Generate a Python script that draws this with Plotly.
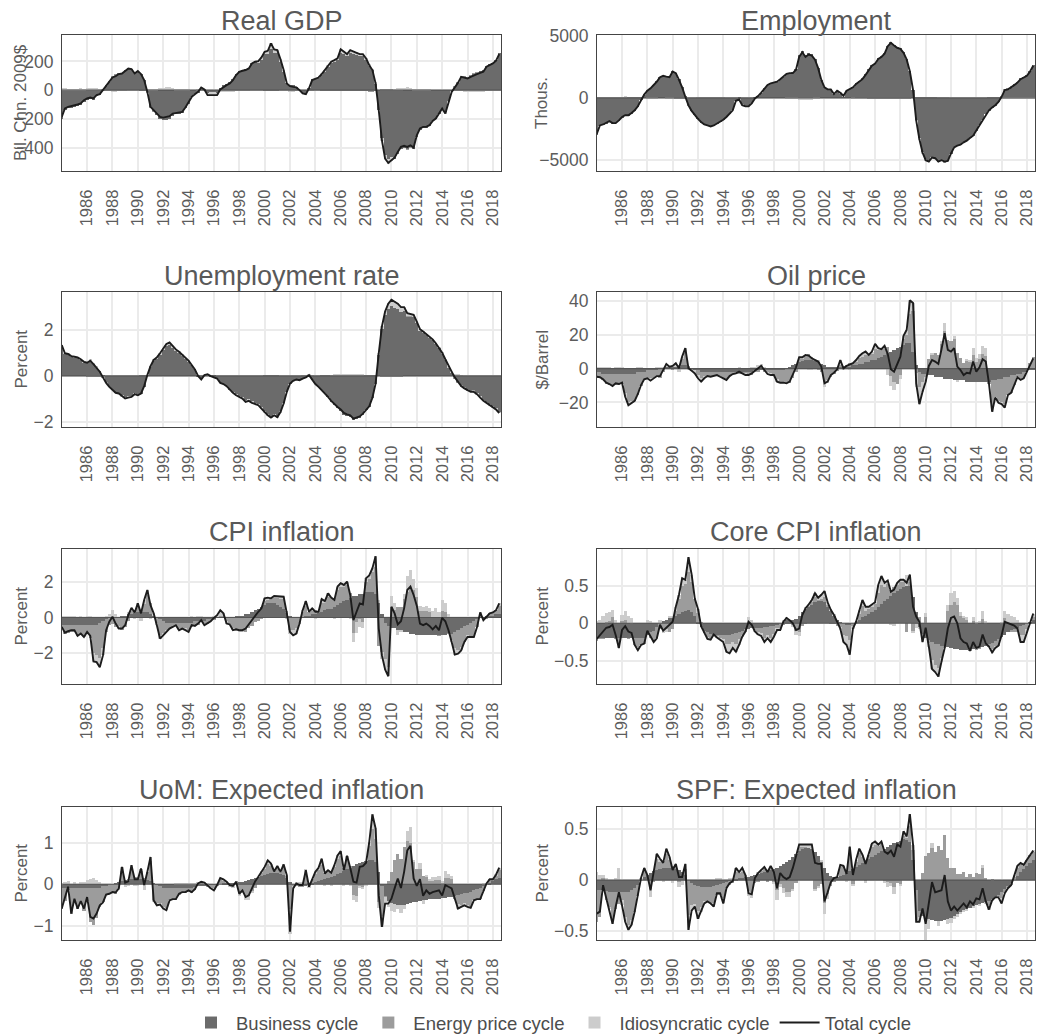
import plotly.graph_objects as go

# Quarterly decomposition, 1984Q1 - 2018Q3
START_YEAR = 1984
N_QUARTERS = 139
quarters = [START_YEAR + 0.25 * i for i in range(N_QUARTERS)]
year_ticks = list(range(1986, 2019, 2))

# ---------------- Real GDP (Bil. Chn. 2009$) ----------------
gdp_total = [
    -186, -128, -116, -112,   # 1984
    -105, -100, -93, -70,     # 1985
    -58, -51, -58, -35,       # 1986
    -28, 0, 28, 58,           # 1987
    88, 98, 112, 116,         # 1988
    135, 151, 147, 116,       # 1989
    133, 112, 70, -12,        # 1990
    -116, -140, -163, -186,   # 1991
    -191, -186, -181, -163,   # 1992
    -158, -158, -151, -121,   # 1993
    -88, -47, -28, -12,       # 1994
    19, 5, -35, -35,          # 1995
    -35, -35, 5, 23,          # 1996
    35, 47, 70, 105,          # 1997
    128, 135, 140, 151,       # 1998
    186, 198, 202, 228,       # 1999
    267, 274, 326, 284,       # 2000
    279, 214, 140, 47,        # 2001
    28, 23, 19, 0,            # 2002
    -23, -28, 12, 70,         # 2003
    77, 88, 112, 140,         # 2004
    174, 198, 209, 221,       # 2005
    284, 267, 251, 279,       # 2006
    267, 260, 251, 251,       # 2007
    221, 174, 140, 47,        # 2008
    -140, -349, -477, -507,   # 2009
    -488, -470, -430, -395,   # 2010
    -388, -395, -384, -400,   # 2011
    -314, -267, -256, -256,   # 2012
    -244, -214, -198, -163,   # 2013
    -128, -163, -81, -12,     # 2014
    19, 51, 93, 88,           # 2015
    81, 93, 105, 112,         # 2016
    121, 128, 163, 174,       # 2017
    186, 205, 251,            # 2018
]
gdp_energy = [
    0, 0, 0, 0,  0, 0, 0, 0,  2, 4, 4, 4,  3, 3, 2, 2,  1, 1, 0, 0,
    0, 0, 0, 0,  0, -2, -4, -4,  -2, -1, 0, 0,  0, 0, 0, 0,  0, 0, 0, 0,
    0, 0, 0, 0,  0, 0, 0, 0,  0, 0, 0, 0,  0, 0, 0, 0,  0, 0, 0, 0,
    0, 0, 0, 0,  -2, -2, -2, -2,  -2, 0, 0, 0,  0, 0, 0, 0,  0, 0, 0, 0,
    0, 0, -2, -2,  -2, -3, -3, -3,  -3, -3, -3, -3,  -3, -3, -4, -4,  -5, -6, -6, -3,
    0, 3, 4, 4,  3, 2, 2, 2,  0, -2, -2, 0,  0, 0, 0, 0,  0, 0, 0, 0,
    0, 0, 0, 0,  3, 3, 3, 3,  3, 3, 2, 2,  0, 0, 0, 0,  0, 0, 0,
]
gdp_idio = [
    12, 12, 10, 10,  10, 10, 12, 10,  10, 8, 8, 5,  5, 0, -5, -5,  -8, -8, -5, -5,
    -3, 0, 0, 0,  0, 0, 0, 5,  8, 10, 10, 15,  18, 20, 20, 15,  10, 5, 5, 5,
    5, 0, 0, 5,  5, -5, -15, -20,  -20, -15, -10, -10,  -10, -10, -10, -5,  -5, -5, -5, -5,
    0, 0, 10, 15,  20, 25, 40, 25,  20, 15, 10, 0,  -10, -10, -5, 0,  0, -5, -5, -5,
    0, 0, 5, 10,  10, 10, 15, 15,  25, 20, 15, 25,  20, 20, 15, 15,  10, 10, 5, 5,
    0, -20, -30, -30,  -25, 5, 10, 15,  15, 20, 15, 10,  10, 10, 5, 5,  5, 0, 0, 0,
    0, -5, -5, -5,  -5, -5, -5, -10,  -10, -10, -10, -10,  -10, -10, -5, -5,  -5, -5, -5,
]

# ---------------- Employment (Thous.) ----------------
emp_total = [
    -2910, -2230, -2150, -2040,   # 1984
    -1880, -2040, -2040, -1820,   # 1985
    -1550, -1410, -1410, -1220,   # 1986
    -1010, -680, -140, 270,       # 1987
    570, 760, 1030, 1300,         # 1988
    1660, 1770, 1710, 1660,       # 1989
    2120, 1990, 1440, 840,        # 1990
    80, -600, -1060, -1410,       # 1991
    -1690, -1960, -2150, -2230,   # 1992
    -2310, -2230, -2090, -1960,   # 1993
    -1770, -1550, -1280, -1010,   # 1994
    -240, -140, -600, -680,       # 1995
    -680, -460, -50, 140,         # 1996
    410, 760, 1030, 1170,         # 1997
    1220, 1300, 1500, 1710,       # 1998
    1930, 1990, 1990, 2260,       # 1999
    3290, 3670, 3290, 3480,       # 2000
    3400, 3070, 2390, 1440,       # 2001
    840, 680, 680, 300,           # 2002
    570, 410, 160, 570,           # 2003
    680, 840, 1120, 1300,         # 2004
    1500, 1850, 2260, 2580,       # 2005
    2750, 3130, 3290, 3560,       # 2006
    4160, 4430, 4220, 4030,       # 2007
    3940, 3620, 3070, 2120,       # 2008
    630, -1820, -3320, -4410,     # 2009
    -5030, -5140, -4810, -4870,   # 2010
    -5140, -5030, -5140, -5090,   # 2011
    -4490, -4000, -3860, -3780,   # 2012
    -3590, -3450, -3240, -3050,   # 2013
    -2640, -2230, -1770, -1330,   # 2014
    -1010, -790, -600, -330,      # 2015
    80, 630, 680, 840,            # 2016
    1030, 1220, 1500, 1660,       # 2017
    1770, 2120, 2580,             # 2018
]
emp_energy = [
    0, 0, 0, 0,  0, 0, 0, 0,  30, 50, 50, 50,  40, 30, 20, 20,  10, 0, 0, 0,
    0, 0, 0, 0,  0, -20, -40, -40,  -30, -10, 0, 0,  0, 0, 0, 0,  0, 0, 0, 0,
    0, 0, 0, 0,  0, 0, 0, 0,  0, 0, 0, 0,  0, 0, 0, 0,  0, 0, 0, 0,
    0, 0, 0, 0,  -20, -20, -20, -20,  -20, 0, 0, 0,  0, 0, 0, 0,  0, 0, 0, 0,
    0, 0, -20, -20,  -30, -30, -40, -40,  -40, -40, -40, -40,  -40, -40, -50, -50,  -60, -60, -60, -40,
    0, 40, 50, 50,  40, 30, 30, 30,  0, -30, -30, 0,  0, 0, 0, 0,  0, 0, 0, 0,
    0, 0, 0, 0,  40, 40, 40, 40,  40, 40, 30, 30,  0, 0, 0, 0,  0, 0, 0,
]
emp_idio = [
    50, 50, 50, 50,  40, 40, 30, 30,  20, 20, 0, 0,  0, 0, 0, 0,  -30, -30, -20, -20,
    0, 0, -50, -60,  -40, 0, 0, 0,  0, 0, 0, 0,  30, 40, 50, 60,  60, 50, 40, 30,
    20, 0, 0, 0,  0, -20, -30, -30,  -30, -20, 0, 0,  0, 0, 0, 0,  0, 0, 0, 0,
    -20, -40, -60, -80,  -100, -120, -150, -150,  -120, -80, -40, 0,  0, 0, 0, 0,  30, 40, 40, 20,
    0, -20, -40, -40,  -30, -20, 0, 0,  0, 0, 0, 0,  0, 0, 0, 0,  0, 0, 0, 0,
    0, -30, -60, -60,  -60, -40, -20, 0,  20, 40, 40, 20,  0, 0, 0, 0,  0, 0, 0, 0,
    0, 0, 0, 0,  0, 0, 0, 0,  -20, -30, -40, -50,  -50, -60, -60, -50,  -50, -40, -30,
]

# ---------------- Unemployment rate (Percent) ----------------
unemp_total = [
    1.34, 0.98, 0.95, 0.86,      # 1984
    0.83, 0.80, 0.72, 0.61,      # 1985
    0.57, 0.66, 0.51, 0.36,      # 1986
    0.18, -0.07, -0.31, -0.48,   # 1987
    -0.63, -0.74, -0.77, -0.89,  # 1988
    -0.99, -0.95, -0.92, -0.80,  # 1989
    -0.85, -0.77, -0.45, 0.03,   # 1990
    0.42, 0.69, 0.80, 0.98,      # 1991
    1.20, 1.39, 1.45, 1.30,      # 1992
    1.15, 1.05, 0.91, 0.76,      # 1993
    0.66, 0.47, 0.28, -0.01,     # 1994
    -0.16, 0.03, 0.07, -0.01,    # 1995
    -0.07, -0.12, -0.31, -0.36,  # 1996
    -0.45, -0.60, -0.74, -0.85,  # 1997
    -0.92, -0.99, -1.14, -1.09,  # 1998
    -1.18, -1.24, -1.28, -1.43,  # 1999
    -1.58, -1.72, -1.82, -1.72,  # 2000
    -1.80, -1.58, -1.21, -0.70,  # 2001
    -0.34, -0.22, -0.16, -0.19,  # 2002
    -0.12, -0.07, 0.03, -0.16,   # 2003
    -0.36, -0.48, -0.63, -0.74,  # 2004
    -0.92, -1.09, -1.24, -1.36,  # 2005
    -1.47, -1.62, -1.68, -1.72,  # 2006
    -1.87, -1.82, -1.77, -1.65,  # 2007
    -1.47, -1.33, -0.95, -0.34,  # 2008
    0.98, 2.15, 2.80, 3.14,      # 2009
    3.31, 3.24, 3.14, 2.99,      # 2010
    2.99, 2.73, 2.70, 2.66,      # 2011
    2.36, 2.03, 1.93, 1.82,      # 2012
    1.68, 1.59, 1.42, 1.24,      # 2013
    1.01, 0.72, 0.42, 0.18,      # 2014
    -0.07, -0.26, -0.45, -0.55,  # 2015
    -0.63, -0.70, -0.70, -0.80,  # 2016
    -0.95, -1.09, -1.18, -1.28,  # 2017
    -1.36, -1.47, -1.62,         # 2018
]
unemp_energy = [
    0, 0, 0, 0,  0, 0, 0, 0,  -0.02, -0.03, -0.03, -0.03,  -0.02, -0.02, -0.01, 0,  0, 0, 0, 0,
    0, 0, 0, 0,  0, 0.01, 0.02, 0.02,  0.01, 0, 0, 0,  0, 0, 0, 0,  0, 0, 0, 0,
    0, 0, 0, 0,  0, 0, 0, 0,  0, 0, 0, 0,  0, 0, 0, 0,  0, 0, 0, 0,
    0, 0, 0, 0,  0.01, 0.01, 0.01, 0.01,  0.01, 0, 0, 0,  0, 0, 0, 0,  0, 0, 0, 0,
    0, 0, 0.01, 0.01,  0.01, 0.01, 0.02, 0.02,  0.02, 0.02, 0.02, 0.02,  0.02, 0.02, 0.02, 0.02,  0.02, 0.03, 0.03, 0.02,
    0, -0.02, -0.03, -0.03,  -0.02, -0.02, -0.01, -0.01,  0, 0.01, 0.01, 0,  0, 0, 0, 0,  0, 0, 0, 0,
    0, 0, 0, 0,  -0.03, -0.03, -0.03, -0.03,  -0.03, -0.02, -0.02, -0.01,  0, 0, 0, 0,  0, 0, 0,
]
unemp_idio = [
    0.04, 0.02, 0.02, 0.02,  0.02, 0.02, 0.02, 0.02,  0.02, 0.02, 0.02, 0.01,  0, 0, 0, 0,  0, 0, -0.02, -0.02,
    -0.03, -0.03, -0.02, -0.02,  -0.02, 0, 0, 0,  0, 0.02, 0.03, 0.05,  0.06, 0.08, 0.10, 0.06,  0.04, 0.03, 0.02, 0.02,
    0.02, 0, 0, 0,  0, 0.03, 0.04, 0.02,  0, 0, 0, 0,  0, 0, -0.02, -0.03,  -0.04, -0.05, -0.06, -0.05,
    -0.05, -0.05, -0.04, -0.04,  -0.04, -0.05, -0.06, -0.05,  -0.05, -0.04, -0.02, 0,  0, 0, 0, 0,  0.02, 0.03, 0.04, 0.02,
    0, 0, 0, 0,  0, 0.02, 0.03, 0.04,  0.05, 0.06, 0.06, 0.05,  0.04, 0.05, 0.04, 0.02,  0, 0, 0, 0,
    0.05, 0.12, 0.20, 0.25,  0.30, 0.30, 0.25, 0.20,  0.15, 0.12, 0.10, 0.08,  0.06, 0.05, 0.04, 0.04,  0.03, 0.03, 0.02, 0.02,
    0.02, 0.03, 0.04, 0.05,  0.05, 0.04, 0.02, 0,  0, 0, -0.02, -0.02,  -0.03, -0.03, -0.03, -0.03,  -0.03, -0.03, -0.03,
]

# ---------------- Oil price ($/Barrel) ----------------
oil_total = [
    -4.8, -5.1, -6.3, -8.3,      # 1984
    -9.1, -10.3, -8.7, -9.1,     # 1985
    -8.3, -16.6, -21.6, -20.2,   # 1986
    -19.0, -15.0, -9.7, -6.3,    # 1987
    -5.7, -7.1, -5.7, -4.4,      # 1988
    -4.4, -0.8, 2.8, 1.2,        # 1989
    1.6, 3.2, 0.2, 7.1,          # 1990
    12.1, 0.2, -1.2, -2.8,       # 1991
    -5.7, -7.7, -5.7, -4.4,      # 1992
    -4.8, -4.4, -3.8, -4.8,      # 1993
    -5.7, -6.7, -4.4, -3.2,      # 1994
    -2.8, -1.8, -2.8, -3.8,      # 1995
    -3.8, -2.8, -1.2, 0.2,       # 1996
    1.6, -0.8, -3.2, -3.8,       # 1997
    -3.8, -7.7, -8.3, -8.3,      # 1998
    -8.7, -7.7, -3.8, 0.8,       # 1999
    6.7, 6.7, 8.1, 7.7,          # 2000
    6.1, 5.1, 4.2, 1.2,          # 2001
    -8.7, -7.7, -3.8, -2.4,      # 2002
    -0.4, 5.1, 0.2, 1.6,         # 2003
    2.2, 3.2, 5.1, 7.5,          # 2004
    9.1, 10.1, 8.1, 10.1,        # 2005
    14.7, 12.1, 11.5, 13.5,      # 2006
    8.7, -0.4, -1.8, 2.8,        # 2007
    7.1, 19.4, 23.0, 40.4,       # 2008
    38.8, -8.7, -21.0, -13.7,    # 2009
    -7.7, 1.6, 5.1, 4.2,         # 2010
    2.8, 11.5, 21.0, 11.1,       # 2011
    10.1, 12.1, 1.2, -0.8,       # 2012
    -3.8, -2.4, -2.8, 4.2,       # 2013
    -1.8, 0.8, 5.5, 4.2,         # 2014
    -8.7, -25.5, -17.0, -20.2,   # 2015
    -21.0, -23.0, -15.6, -14.3,  # 2016
    -9.7, -5.1, -6.7, -5.7,      # 2017
    -1.8, 2.2, 6.1,              # 2018
]
oil_business = [
    -2, -2, -3, -3,  -3, -3, -3, -3,  -3, -3, -3, -3,  -3, -2, -2, -2,  -1, -1, -1, -1,
    0, 0, 1, 1,  1, 1, 1, 2,  2, 1, 0, -1,  -1, -2, -2, -2,  -2, -2, -2, -2,
    -2, -2, -2, -2,  -2, -2, -2, -2,  -2, -2, -1, -1,  -1, -1, -1, -1,  -1, -1, -1, -1,
    0, 1, 2, 3,  4, 5, 5, 5,  5, 5, 4, 3,  2, 1, 1, 1,  1, 1, 1, 1,
    1, 2, 2, 3,  3, 4, 4, 5,  5, 6, 7, 8,  9, 10, 11, 12,  13, 14, 15, 15,
    10, 2, -2, -3,  -3, -4, -4, -5,  -5, -5, -6, -6,  -6, -7, -7, -7,  -7, -8, -8, -8,
    -8, -8, -8, -8,  -8, -7, -7, -6,  -6, -5, -5, -4,  -4, -3, -3, -2,  -2, -1, -1,
]
oil_idio = [
    0.5, 0.5, 0.5, 0.5,  0.5, 0, 1, 0.5,  0.5, -2, -2, -1,  0, 0.5, 0.5, 0,  0, -1, 0, 0.5,
    1, 1, 2, 0,  1, 2, -2, 1,  3, -1, 0, -2,  -2, -2, -1, 0,  0, 0, 0, 0,
    0, -1, 0, 0,  0, 1, 0, -1,  0, 1, 1, 2,  2, 1, -1, -1,  0, -1, 0, 0,
    0, 0, 0, 0,  1, 1, 0, -1,  -1, 0, 1, 0,  -3, -2, 0, 0,  0, 3, -1, 0,
    -1, 0, 1, 1,  2, 2, 0, 1,  3, 1, 0, 2,  -4, -6, -5, 0,  -2, 2, 3, 8,
    5, -8, -10, -6,  -3, 0, 1, 0,  0, 2, 5, 0,  0, 1, -1, 0,  0, 1, 1, 4,
    2, 3, 5, 5,  0, -4, 0, -1,  -1, -2, 0, 0,  0, 0, 0, 0,  0, 0, 0,
]

# ---------------- CPI inflation (Percent) ----------------
cpi_total = [
    -0.53, -0.85, -0.77, -0.71,  # 1984
    -0.71, -1.03, -0.90, -1.09,  # 1985
    -0.81, -1.03, -2.46, -2.50,  # 1986
    -2.78, -2.12, -0.71, -0.24,  # 1987
    0.04, -0.34, -0.62, -0.62,   # 1988
    -0.43, 0.13, 0.54, 0.28,     # 1989
    0.79, 0.23, 0.98, 1.54,      # 1990
    0.69, 0.23, -0.43, -1.18,    # 1991
    -1.00, -0.81, -0.62, -0.53,  # 1992
    -0.43, -0.71, -0.62, -0.71,  # 1993
    -0.81, -0.43, -0.47, -0.34,  # 1994
    -0.15, -0.43, -0.34, -0.21,  # 1995
    -0.02, 0.13, 0.41, 0.23,     # 1996
    -0.34, -0.39, -0.71, -0.66,  # 1997
    -0.71, -0.71, -0.62, -0.39,  # 1998
    -0.15, 0.13, 0.32, 0.51,     # 1999
    1.07, 1.11, 1.07, 1.20,      # 2000
    1.20, 1.16, 1.16, 0.23,      # 2001
    -0.81, -1.00, -0.90, -0.34,  # 2002
    0.41, 0.92, 0.32, 0.51,      # 2003
    0.32, 0.32, 1.03, 0.92,      # 2004
    1.35, 1.11, 0.98, 1.73,      # 2005
    1.92, 1.82, 2.01, 1.26,      # 2006
    -0.15, 0.32, 0.79, 0.73,     # 2007
    2.20, 2.35, 2.76, 3.42,      # 2008
    -0.62, -2.12, -2.91, -3.29,  # 2009
    0.60, 0.23, -0.39, -0.21,    # 2010
    0.51, 1.54, 1.73, 1.26,      # 2011
    0.66, -0.34, -0.43, -0.34,   # 2012
    -0.47, -0.66, -0.47, -0.71,  # 2013
    -0.02, -0.21, -0.71, -1.37,  # 2014
    -2.08, -2.03, -1.84, -1.37,  # 2015
    -1.09, -1.09, -1.09, -0.53,  # 2016
    0.28, -0.15, 0.04, 0.23,     # 2017
    0.28, 0.41, 0.79,            # 2018
]
cpi_business = [
    -0.4, -0.4, -0.4, -0.4,  -0.4, -0.4, -0.4, -0.4,  -0.4, -0.4, -0.4, -0.4,  -0.3, -0.2, -0.1, 0,  0, 0, 0, 0.1,
    0.1, 0.2, 0.2, 0.3,  0.3, 0.3, 0.3, 0.3,  0.2, 0.1, 0, -0.1,  -0.2, -0.3, -0.3, -0.3,  -0.3, -0.3, -0.3, -0.3,
    -0.3, -0.3, -0.2, -0.2,  -0.2, -0.2, -0.1, -0.1,  -0.1, 0, 0, 0,  0, 0, 0, 0.1,  0.1, 0.1, 0.2, 0.2,
    0.3, 0.4, 0.5, 0.6,  0.7, 0.8, 0.8, 0.8,  0.7, 0.6, 0.5, 0.3,  0.1, 0, 0, 0,  0, 0.1, 0.1, 0.2,
    0.2, 0.3, 0.3, 0.4,  0.5, 0.5, 0.6, 0.7,  0.8, 0.9, 1.0, 1.1,  1.2, 1.2, 1.3, 1.3,  1.4, 1.4, 1.4, 1.3,
    0.8, 0.2, -0.3, -0.5,  -0.6, -0.6, -0.7, -0.7,  -0.8, -0.8, -0.9, -0.9,  -1.0, -1.0, -1.0, -1.0,  -1.0, -1.0, -1.0, -1.0,
    -1.0, -1.0, -0.9, -0.9,  -0.8, -0.7, -0.6, -0.5,  -0.4, -0.3, -0.2, -0.1,  0, 0, 0.1, 0.1,  0.1, 0.2, 0.2,
]
cpi_idio = [
    0.1, 0.1, 0.1, 0.1,  0.1, 0, 0.1, -0.1,  0.1, 0.1, -0.5, -0.4,  -0.5, -0.4, 0.1, 0.2,  0.4, 0.2, -0.1, 0,
    0, 0.1, 0.2, -0.1,  0.2, -0.2, 0.2, 0.3,  -0.1, 0.1, -0.1, -0.2,  -0.1, -0.1, 0, 0,  0, -0.1, 0, -0.1,
    -0.1, 0.1, 0, 0.1,  0.1, -0.1, 0, 0,  0.1, 0.1, 0.3, 0.1,  -0.1, 0, -0.1, -0.1,  -0.1, -0.1, 0, 0,
    0, 0, 0, 0,  0.1, 0.1, 0, 0.1,  0.1, 0.1, 0.1, -0.1,  -0.2, -0.3, -0.3, 0,  0.1, 0.3, 0, 0.1,
    -0.1, 0, 0.2, 0.1,  0.2, 0, -0.1, 0.2,  0.2, 0.1, 0.2, -0.1,  -0.5, -0.6, -0.4, -0.3,  0.2, 0.2, 0.2, 0.6,
    0.2, -0.4, -0.6, -0.5,  0.6, 0.4, -0.3, -0.1,  0.3, 0.9, 1.0, 0.6,  0.5, 0.3, 0.2, 0.3,  0.2, 0.3, 0.5, 0.3,
    0.6, 0.5, 0.2, -0.1,  -0.4, -0.2, -0.2, 0,  -0.1, 0, 0, 0,  0.2, 0, 0, 0,  0, 0, 0.1,
]

# ---------------- Core CPI inflation (Percent) ----------------
core_total = [
    -0.21, -0.16, -0.11, -0.06,  # 1984
    -0.05, -0.02, -0.16, -0.33,  # 1985
    -0.09, -0.04, -0.11, -0.13,  # 1986
    -0.29, -0.36, -0.29, -0.27,  # 1987
    -0.10, -0.17, -0.25, -0.20,  # 1988
    -0.02, -0.10, -0.06, -0.02,  # 1989
    0.02, 0.22, 0.38, 0.60,      # 1990
    0.58, 0.88, 0.65, 0.33,      # 1991
    0.19, -0.04, -0.13, -0.21,   # 1992
    -0.22, -0.15, -0.19, -0.22,  # 1993
    -0.25, -0.38, -0.40, -0.33,  # 1994
    -0.38, -0.29, -0.18, -0.11,  # 1995
    0.02, -0.02, -0.11, -0.15,   # 1996
    -0.17, -0.25, -0.20, -0.25,  # 1997
    -0.18, -0.09, -0.09, 0.02,   # 1998
    0.07, 0.04, 0.00, -0.09,     # 1999
    -0.07, 0.11, 0.20, 0.25,     # 2000
    0.31, 0.40, 0.34, 0.38,      # 2001
    0.43, 0.28, 0.18, 0.11,      # 2002
    0.02, -0.07, -0.25, -0.29,   # 2003
    -0.42, -0.07, 0.02, 0.18,    # 2004
    0.31, 0.22, 0.22, 0.25,      # 2005
    0.28, 0.51, 0.63, 0.54,      # 2006
    0.57, 0.42, 0.45, 0.54,      # 2007
    0.58, 0.58, 0.54, 0.65,      # 2008
    0.22, 0.09, 0.02, -0.25,     # 2009
    -0.06, -0.31, -0.61, -0.65,  # 2010
    -0.71, -0.51, -0.33, -0.07,  # 2011
    0.07, 0.09, 0.00, -0.20,     # 2012
    -0.25, -0.27, -0.37, -0.25,  # 2013
    -0.33, -0.31, -0.15, -0.27,  # 2014
    -0.31, -0.39, -0.33, -0.30,  # 2015
    -0.16, 0.02, 0.00, -0.01,    # 2016
    -0.03, -0.07, -0.25, -0.25,  # 2017
    -0.13, 0.01, 0.13,           # 2018
]
core_business = [
    -0.2, -0.2, -0.2, -0.2,  -0.2, -0.2, -0.2, -0.2,  -0.2, -0.2, -0.2, -0.2,  -0.2, -0.2, -0.2, -0.2,
    -0.15, -0.12, -0.1, -0.05,  0, 0.03, 0.05, 0.07,  0.08, 0.1, 0.12, 0.15,  0.17, 0.18, 0.15, 0.1,
    0.02, -0.05, -0.1, -0.12,  -0.14, -0.15, -0.16, -0.16,  -0.16, -0.16, -0.15, -0.14,  -0.13, -0.12, -0.1, -0.08,
    -0.07, -0.06, -0.06, -0.06,  -0.06, -0.05, -0.05, -0.04,  -0.03, -0.02, 0, 0.02,  0.04, 0.05, 0.05, 0.06,
    0.1, 0.15, 0.2, 0.22,  0.25, 0.28, 0.3, 0.3,  0.28, 0.22, 0.16, 0.1,  0.05, 0.02, 0, -0.02,
    -0.02, 0, 0.02, 0.05,  0.08, 0.1, 0.12, 0.15,  0.18, 0.22, 0.26, 0.3,  0.33, 0.36, 0.4, 0.43,
    0.46, 0.48, 0.5, 0.5,  0.35, 0.15, -0.05, -0.15,  -0.2, -0.22, -0.25, -0.27,  -0.28, -0.3, -0.31, -0.32,
    -0.33, -0.34, -0.34, -0.35,  -0.35, -0.35, -0.35, -0.34,  -0.33, -0.32, -0.31, -0.3,  -0.28, -0.26, -0.24, -0.21,
    -0.18, -0.15, -0.12, -0.1,  -0.08, -0.06, -0.04, -0.02,  0, 0.02, 0.04,
]
core_idio = [
    0.03, 0.05, 0.1, 0.12,  0.12, 0.1, 0.05, -0.05,  0.08, 0.12, 0.1, 0.06,  0, -0.05, 0, 0,
    0.05, 0.03, -0.03, 0,  0.05, -0.05, -0.03, 0.02,  0.02, 0.05, 0.05, 0.1,  0.05, 0.2, 0.1, 0,
    0.05, 0, 0, -0.02,  -0.03, 0, -0.01, -0.03,  -0.04, -0.1, -0.12, -0.08,  -0.1, -0.08, -0.03, 0,
    0.08, 0.04, -0.02, -0.03,  -0.04, -0.06, -0.04, -0.06,  -0.04, -0.02, -0.03, 0.02,  0.04, 0, -0.02, -0.05,
    -0.06, 0, 0.01, 0.01,  0.02, 0.05, 0.02, 0.05,  0.08, 0.04, 0.03, 0.02,  0, -0.04, -0.1, -0.12,
    -0.2, -0.04, -0.01, 0.05,  0.08, 0.05, 0.03, 0.03,  0.02, 0.1, 0.12, 0.05,  0.05, -0.02, -0.03, 0.02,
    0.03, 0.02, 0.15, 0.1,  -0.03, -0.05, -0.02, -0.08,  0.05, -0.05, -0.12, -0.1,  -0.12, -0.05, 0, 0.08,
    0.15, 0.15, 0.1, 0.05,  0.03, 0.04, 0, 0.06,  0.02, 0.03, 0.1, 0.02,  0, -0.05, -0.02, 0,
    0.02, 0.1, 0.12, 0.1,  0.08, 0.04, -0.1, -0.1,  -0.05, 0, 0.05,
]

# ---------------- UoM: Expected inflation (Percent) ----------------
uom_total = [
    -0.59, -0.35, -0.06, -0.71,  # 1984
    -0.35, -0.59, -0.41, -0.59,  # 1985
    -0.31, -0.79, -0.83, -0.71,  # 1986
    -0.51, -0.44, -0.25, -0.23,  # 1987
    -0.19, -0.20, -0.10, 0.42,   # 1988
    0.04, 0.07, 0.46, 0.12,      # 1989
    0.12, 0.38, -0.02, 0.30,     # 1990
    0.66, -0.39, -0.51, -0.49,   # 1991
    -0.59, -0.63, -0.39, -0.36,  # 1992
    -0.36, -0.23, -0.19, -0.19,  # 1993
    -0.15, -0.19, -0.12, 0.02,   # 1994
    0.06, 0.04, -0.04, -0.10,    # 1995
    -0.15, -0.02, 0.15, 0.12,    # 1996
    0.06, -0.02, -0.04, 0.06,    # 1997
    -0.23, -0.15, -0.31, -0.27,  # 1998
    -0.10, 0.07, 0.18, 0.30,     # 1999
    0.42, 0.58, 0.50, 0.31,      # 2000
    0.44, 0.30, 0.48, 0.22,      # 2001
    -1.15, -0.10, 0.02, -0.02,   # 2002
    -0.02, 0.34, -0.06, 0.12,    # 2003
    0.30, 0.40, 0.62, 0.26,      # 2004
    0.34, 0.28, 0.46, 0.70,      # 2005
    0.80, 0.34, 0.69, 0.40,      # 2006
    0.06, 0.04, 0.42, 0.44,      # 2007
    0.52, 1.02, 1.69, 1.35,      # 2008
    -0.27, -1.03, -0.47, -0.47,  # 2009
    -0.35, -0.10, 0.14, -0.09,   # 2010
    0.30, 0.82, 0.93, 0.14,      # 2011
    -0.04, 0.12, -0.28, -0.15,   # 2012
    -0.23, -0.19, -0.17, -0.15,  # 2013
    -0.27, -0.02, -0.06, -0.10,  # 2014
    -0.35, -0.59, -0.55, -0.51,  # 2015
    -0.55, -0.57, -0.39, -0.36,  # 2016
    -0.36, -0.15, 0.02, 0.12,    # 2017
    0.12, 0.23, 0.40,            # 2018
]
uom_business = [
    -0.1, -0.1, -0.1, -0.1,  -0.1, -0.1, -0.1, -0.1,  -0.1, -0.1, -0.1, -0.1,  -0.1, -0.05, -0.05, 0,
    0, 0.03, 0.05, 0.08,  0.1, 0.1, 0.12, 0.12,  0.12, 0.12, 0.12, 0.1,  0.08, 0.03, -0.02, -0.05,
    -0.08, -0.1, -0.1, -0.1,  -0.1, -0.1, -0.1, -0.1,  -0.1, -0.08, -0.06, -0.04,  -0.03, -0.02, -0.02, -0.02,
    -0.02, 0, 0, 0.02,  0.03, 0.03, 0.04, 0.05,  0.05, 0.06, 0.08, 0.1,  0.12, 0.15, 0.18, 0.2,
    0.22, 0.25, 0.27, 0.28,  0.28, 0.26, 0.22, 0.15,  0.05, 0, -0.02, -0.03,  -0.03, -0.02, 0, 0.02,
    0.05, 0.08, 0.1, 0.13,  0.15, 0.18, 0.2, 0.24,  0.28, 0.32, 0.36, 0.4,  0.44, 0.48, 0.52, 0.55,
    0.57, 0.58, 0.58, 0.55,  0.3, -0.05, -0.3, -0.4,  -0.45, -0.48, -0.5, -0.5,  -0.5, -0.48, -0.46, -0.44,
    -0.42, -0.4, -0.38, -0.37,  -0.36, -0.36, -0.35, -0.35,  -0.34, -0.33, -0.32, -0.3,  -0.28, -0.26, -0.24, -0.22,
    -0.2, -0.18, -0.15, -0.12,  -0.08, -0.04, 0, 0.04,  0.08, 0.12, 0.15,
]
uom_idio = [
    0.02, 0.05, 0.08, 0,  0.05, 0, 0.05, 0.05,  0.1, 0.12, 0.15, 0.1,  0.05, 0, 0, 0,
    0, 0, -0.05, 0.1,  -0.05, -0.05, 0.1, -0.05,  -0.05, 0.05, -0.15, 0,  0.1, -0.05, -0.05, -0.03,
    -0.05, -0.05, 0, 0,  0.02, 0.02, 0.02, 0.03,  0.03, 0.02, 0.03, 0.05,  0.05, 0.05, 0.02, -0.03,
    -0.05, 0, 0.05, 0.05,  0.02, -0.03, -0.05, 0,  -0.1, -0.05, -0.1, -0.08,  -0.05, 0, 0, 0.02,
    0.05, 0.1, 0.05, 0,  0.03, 0, 0.05, 0.02,  -0.6, -0.05, 0.05, 0.05,  0.05, 0.15, -0.1, 0,
    0.05, 0.05, 0.15, -0.02,  0.02, -0.03, 0.05, 0.1,  0.12, -0.05, 0.1, -0.05,  -0.12, -0.15, -0.05, -0.05,
    -0.05, 0.1, 0.35, 0.25,  -0.15, -0.25, -0.15, -0.15,  -0.2, -0.2, -0.1, -0.2,  -0.1, 0.25, 0.4, 0.05,
    0, 0.15, -0.1, 0.05,  0.05, 0.1, 0.08, 0.1,  0.05, 0.15, 0.1, 0.08,  0, -0.1, -0.05, -0.05,
    -0.05, -0.05, 0, 0,  0, 0.02, 0.02, 0,  0, 0.02, 0.05,
]

# ---------------- SPF: Expected inflation (Percent) ----------------
spf_total = [
    -0.33, -0.31, -0.05, -0.18,  # 1984
    -0.28, -0.43, -0.26, -0.12,  # 1985
    -0.25, -0.41, -0.49, -0.44,  # 1986
    -0.31, -0.16, 0.02, 0.12,    # 1987
    0.05, -0.10, 0.07, 0.26,     # 1988
    0.21, 0.17, 0.31, 0.23,      # 1989
    0.10, 0.16, 0.03, 0.03,      # 1990
    0.16, -0.49, -0.30, -0.26,   # 1991
    -0.38, -0.31, -0.23, -0.21,  # 1992
    -0.23, -0.26, -0.13, -0.13,  # 1993
    -0.23, -0.08, -0.03, -0.01,  # 1994
    0.12, 0.08, 0.12, 0.05,      # 1995
    -0.13, -0.14, 0.02, 0.07,    # 1996
    0.10, 0.13, 0.08, 0.14,      # 1997
    0.08, -0.08, 0.07, 0.03,     # 1998
    0.01, 0.03, 0.12, 0.23,      # 1999
    0.35, 0.35, 0.35, 0.35,      # 2000
    0.35, 0.17, 0.16, 0.16,      # 2001
    -0.21, -0.12, -0.02, 0.02,   # 2002
    0.03, 0.15, 0.14, 0.06,      # 2003
    0.33, 0.05, 0.20, 0.31,      # 2004
    0.25, 0.16, 0.25, 0.36,      # 2005
    0.38, 0.35, 0.38, 0.28,      # 2006
    0.26, 0.29, 0.23, 0.35,      # 2007
    0.33, 0.48, 0.43, 0.65,      # 2008
    0.35, -0.41, -0.41, -0.28,   # 2009
    -0.43, -0.21, -0.02, -0.12,  # 2010
    -0.11, -0.10, 0.05, -0.21,   # 2011
    -0.30, -0.26, -0.30, -0.27,  # 2012
    -0.23, -0.27, -0.21, -0.24,  # 2013
    -0.18, -0.19, -0.08, -0.21,  # 2014
    -0.29, -0.20, -0.17, -0.17,  # 2015
    -0.23, -0.13, -0.08, -0.05,  # 2016
    0.05, 0.14, 0.17, 0.15,      # 2017
    0.20, 0.25, 0.29,            # 2018
]
spf_business = [
    -0.1, -0.1, -0.1, -0.11,  -0.12, -0.12, -0.12, -0.12,  -0.12, -0.12, -0.12, -0.1,  -0.08, -0.05, 0, 0.03,
    0.05, 0.07, 0.09, 0.1,  0.11, 0.12, 0.12, 0.12,  0.12, 0.11, 0.1, 0.08,  0.05, 0, -0.03, -0.05,
    -0.06, -0.07, -0.07, -0.07,  -0.07, -0.06, -0.05, -0.04,  -0.03, -0.02, -0.01, 0,  0.01, 0.02, 0.02, 0.03,
    0.03, 0.04, 0.05, 0.06,  0.07, 0.08, 0.09, 0.1,  0.11, 0.12, 0.14, 0.16,  0.18, 0.2, 0.23, 0.26,
    0.29, 0.31, 0.32, 0.32,  0.31, 0.28, 0.24, 0.18,  0.12, 0.07, 0.04, 0.03,  0.03, 0.04, 0.05, 0.07,
    0.09, 0.11, 0.13, 0.15,  0.17, 0.19, 0.21, 0.23,  0.25, 0.27, 0.29, 0.31,  0.33, 0.35, 0.37, 0.38,
    0.39, 0.4, 0.4, 0.38,  0.2, -0.1, -0.3, -0.35,  -0.37, -0.38, -0.39, -0.4,  -0.4, -0.4, -0.39, -0.38,
    -0.37, -0.35, -0.33, -0.31,  -0.3, -0.28, -0.27, -0.26,  -0.25, -0.24, -0.23, -0.22,  -0.21, -0.19, -0.17, -0.15,
    -0.12, -0.09, -0.06, -0.03,  0, 0.04, 0.08, 0.11,  0.14, 0.17, 0.2,
]
spf_idio = [
    0.08, 0.05, 0.03, 0.02,  -0.02, -0.05, 0.02, 0.12,  -0.05, -0.05, -0.05, -0.05,  0, 0, 0.02, 0.02,
    0, -0.08, 0, 0.05,  0.03, -0.02, 0.05, 0.03,  -0.03, 0.03, -0.05, -0.05,  0.05, -0.15, -0.05, -0.02,
    -0.08, -0.05, -0.02, 0,  0, -0.03, 0.02, 0.02,  -0.05, 0, 0.02, 0.02,  0.04, 0.01, 0.04, 0,
    -0.05, -0.05, 0, 0.02,  0.01, 0.02, 0, 0.02,  -0.01, -0.1, -0.03, -0.05,  -0.05, -0.05, -0.02, 0,
    0.02, 0.02, 0.02, 0.03,  0.04, -0.02, -0.02, 0.02,  -0.1, -0.05, 0, 0,  0, 0.02, 0, -0.02,
    0.06, -0.02, 0.02, 0.04,  0.02, -0.02, 0, 0.03,  0.03, 0.01, 0.02, -0.02,  -0.05, -0.03, -0.07, 0,
    -0.02, 0.05, 0.02, 0.12,  0.05, -0.02, -0.05, 0,  -0.3, -0.1, 0.05, 0,  -0.05, 0, 0, -0.05,
    -0.05, -0.03, -0.03, -0.02,  -0.01, -0.02, 0, -0.01,  0, -0.01, 0.03, -0.01,  -0.04, -0.02, 0, 0,
    -0.05, 0, 0, 0,  0.01, 0.02, 0, 0.01,  0, 0, 0.01,
]


def residual(total, a, b):
    return [round(t - x - y, 4) for t, x, y in zip(total, a, b)]


panels = [
    dict(title="Real GDP", unit="Bil. Chn. 2009$", total=gdp_total,
         business=residual(gdp_total, gdp_energy, gdp_idio), energy=gdp_energy, idio=gdp_idio,
         yrange=[-563, 384], yticks=[-400, -200, 0, 200]),
    dict(title="Employment", unit="Thous.", total=emp_total,
         business=residual(emp_total, emp_energy, emp_idio), energy=emp_energy, idio=emp_idio,
         yrange=[-5900, 5060], yticks=[-5000, 0, 5000]),
    dict(title="Unemployment rate", unit="Percent", total=unemp_total,
         business=residual(unemp_total, unemp_energy, unemp_idio), energy=unemp_energy, idio=unemp_idio,
         yrange=[-2.23, 3.65], yticks=[-2, 0, 2]),
    dict(title="Oil price", unit="$/Barrel", total=oil_total,
         business=oil_business, energy=residual(oil_total, oil_business, oil_idio), idio=oil_idio,
         yrange=[-34.5, 45.3], yticks=[-20, 0, 20, 40]),
    dict(title="CPI inflation", unit="Percent", total=cpi_total,
         business=cpi_business, energy=residual(cpi_total, cpi_business, cpi_idio), idio=cpi_idio,
         yrange=[-3.72, 3.83], yticks=[-2, 0, 2]),
    dict(title="Core CPI inflation", unit="Percent", total=core_total,
         business=core_business, energy=residual(core_total, core_business, core_idio), idio=core_idio,
         yrange=[-0.81, 0.99], yticks=[-0.5, 0, 0.5]),
    dict(title="UoM: Expected inflation", unit="Percent", total=uom_total,
         business=uom_business, energy=residual(uom_total, uom_business, uom_idio), idio=uom_idio,
         yrange=[-1.35, 1.87], yticks=[-1, 0, 1]),
    dict(title="SPF: Expected inflation", unit="Percent", total=spf_total,
         business=spf_business, energy=residual(spf_total, spf_business, spf_idio), idio=spf_idio,
         yrange=[-0.59, 0.72], yticks=[-0.5, 0, 0.5]),
]

for p in panels:
    for key in ("total", "business", "energy", "idio"):
        if len(p[key]) != N_QUARTERS:
            raise ValueError(f"{p['title']} {key}: {len(p[key])} values")

# Styling
FONT = "Liberation Sans, Arial, sans-serif"
C_BUSINESS = "#6b6b6b"
C_ENERGY = "#9c9c9c"
C_IDIO = "#cccccc"
C_TOTAL = "#1c1c1c"
TEXT = "#5c5c5c"
W, H = 1037, 1036

# panel frames in pixels (left/right, top/bottom)
col_x = [(62, 501), (597, 1035)]
row_y = [(35, 171), (292, 427), (549, 684), (807, 940)]
title_y = [21, 276, 532, 790]
unit_x = [21, 542]

fig = go.Figure()
layout = dict(
    width=W, height=H, margin=dict(l=0, r=0, t=0, b=0, autoexpand=False),
    paper_bgcolor="white", plot_bgcolor="white",
    barmode="relative", bargap=0,
    font=dict(family=FONT, color=TEXT),
    showlegend=True,
    legend=dict(orientation="h", x=551 / W, xanchor="center", y=1 - 1023 / H, yanchor="middle",
                font=dict(size=18.5, color="#4d4d4d"), itemwidth=40, traceorder="normal"),
    annotations=[],
)

for k, p in enumerate(panels):
    row, col = divmod(k, 2)
    n = "" if k == 0 else str(k + 1)
    xa, ya = "x" + n, "y" + n
    first = k == 0
    for name, key, color in (("Business cycle", "business", C_BUSINESS),
                             ("Energy price cycle", "energy", C_ENERGY),
                             ("Idiosyncratic cycle", "idio", C_IDIO)):
        fig.add_trace(go.Bar(x=quarters, y=p[key], width=0.25, name=name, legendgroup=name,
                             showlegend=first, marker=dict(color=color, line=dict(width=0)),
                             xaxis=xa, yaxis=ya))
    fig.add_trace(go.Scatter(x=[1983, 2020], y=[0, 0], mode="lines", showlegend=False,
                             hoverinfo="skip", line=dict(color="#555555", width=1.2),
                             xaxis=xa, yaxis=ya))
    fig.add_trace(go.Scatter(x=quarters, y=p["total"], mode="lines", name="Total cycle",
                             legendgroup="Total cycle", showlegend=first,
                             line=dict(color=C_TOTAL, width=1.9), xaxis=xa, yaxis=ya))

    x0, x1 = col_x[col]
    y0, y1 = row_y[row]
    layout["xaxis" + n] = dict(
        domain=[x0 / W, x1 / W], range=[1984.02, 2018.64], anchor=ya,
        tickvals=year_ticks, ticktext=[str(y) for y in year_ticks], tickangle=-90,
        tickfont=dict(size=16.5, color=TEXT, family=FONT), ticks="", ticklabelstandoff=11,
        showgrid=True, gridcolor="#ebebeb", gridwidth=1.6, zeroline=False,
        showline=True, mirror=True, linecolor="#444444", linewidth=1,
    )
    layout["yaxis" + n] = dict(
        domain=[1 - y1 / H, 1 - y0 / H], range=p["yrange"], anchor=xa,
        tickvals=p["yticks"], tickfont=dict(size=17.5, color=TEXT, family=FONT),
        ticks="", ticklabelstandoff=4,
        showgrid=True, gridcolor="#ebebeb", gridwidth=1.6, zeroline=False,
        showline=True, mirror=True, linecolor="#444444", linewidth=1,
    )
    layout["annotations"].append(dict(
        text=p["title"], x=(x0 + x1) / 2 / W, y=1 - title_y[row] / H, xref="paper", yref="paper",
        xanchor="center", yanchor="middle", showarrow=False,
        font=dict(size=27, color="#595959", family=FONT)))
    layout["annotations"].append(dict(
        text=p["unit"], x=unit_x[col] / W, y=1 - (y0 + y1) / 2 / H, xref="paper", yref="paper",
        xanchor="center", yanchor="middle", showarrow=False, textangle=-90,
        font=dict(size=17, color=TEXT, family=FONT)))

fig.update_layout(**layout)
fig.write_html("out.html")
